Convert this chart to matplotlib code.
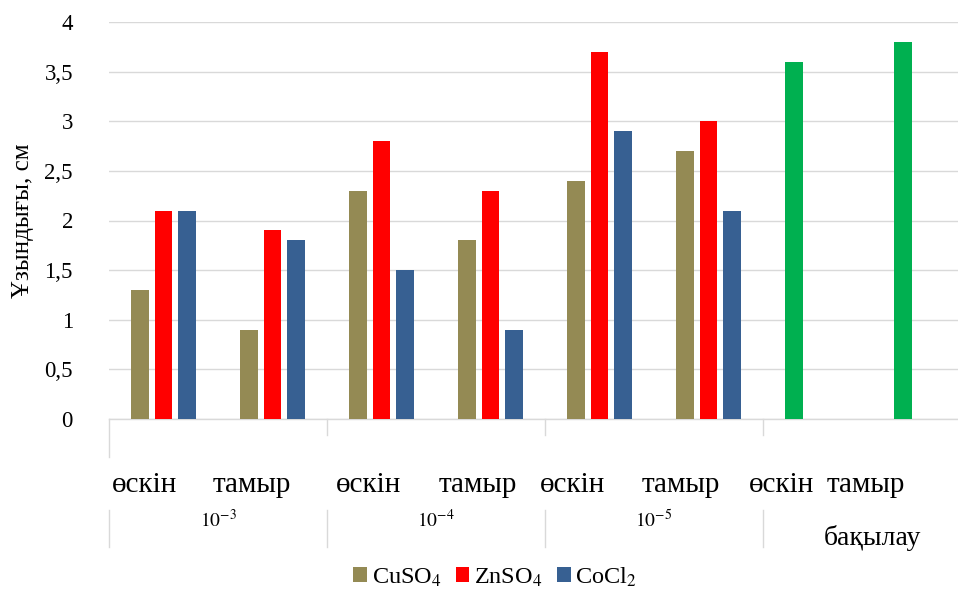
import matplotlib
matplotlib.use("Agg")
import matplotlib.pyplot as plt
import numpy as np
from matplotlib.transforms import blended_transform_factory
from matplotlib.patches import Patch

plt.rcParams['font.family'] = ['Liberation Serif', 'DejaVu Serif']
plt.rcParams['mathtext.fontset'] = 'stix'

# ---- data ----
categories = ["өскін", "тамыр", "өскін", "тамыр", "өскін", "тамыр", "өскін", "тамыр"]
groups = ["$10^{-3}$", "$10^{-4}$", "$10^{-5}$", "бақылау"]
cuso4 = [1.3, 0.9, 2.3, 1.8, 2.4, 2.7, np.nan, np.nan]
znso4 = [2.1, 1.9, 2.8, 2.3, 3.7, 3.0, np.nan, np.nan]
cocl2 = [2.1, 1.8, 1.5, 0.9, 2.9, 2.1, np.nan, np.nan]
control = [np.nan, np.nan, np.nan, np.nan, np.nan, np.nan, 3.6, 3.8]
series_names = ["CuSO$_4$", "ZnSO$_4$", "CoCl$_2$"]
y_ticks = [0, 0.5, 1, 1.5, 2, 2.5, 3, 3.5, 4]
y_ticklabels = ["0", "0,5", "1", "1,5", "2", "2,5", "3", "3,5", "4"]
y_label = "Ұзындығы, см"

# ---- style ----
c_cu, c_zn, c_co, c_ctrl = "#948A54", "#FF0000", "#376092", "#00B050"
grid_c = "#D9D9D9"

fig = plt.figure(figsize=(9.58, 5.90), dpi=100)
ax = fig.add_axes([109/958, 171/590, 872/958, 397/590])

x = np.arange(len(categories))
w = 0.165
step = 0.22
ax.bar(x - step, cuso4, w, color=c_cu, zorder=3)
ax.bar(x, znso4, w, color=c_zn, zorder=3)
ax.bar(x + step, cocl2, w, color=c_co, zorder=3)
ax.bar(x - step, control, w, color=c_ctrl, zorder=3)

ax.set_xlim(-0.5, len(categories) - 0.5)
ax.set_ylim(0, 4)
ax.set_yticks(y_ticks)
ax.set_yticklabels(y_ticklabels, fontsize=16.5)
ax.tick_params(axis='y', length=0, pad=26)
ax.set_xticks([])
ax.yaxis.grid(True, color=grid_c, linewidth=1.0, zorder=0)
for s in ["top", "right", "left"]:
    ax.spines[s].set_visible(False)
ax.spines["bottom"].set_color(grid_c)
ax.spines["bottom"].set_linewidth(1.0)
ax.set_ylabel(y_label, fontsize=18)
ax.yaxis.set_label_coords(-0.086, 0.5)

tr = blended_transform_factory(ax.transData, ax.transAxes)

# category labels (placed slightly left, as in the reference)
shifts = [-0.17, -0.19, -0.12, -0.12, -0.25, -0.25, -0.33, -0.56]
for i, lab in enumerate(categories):
    ax.text(x[i] + shifts[i], -0.165, lab, transform=tr, ha='center', va='center',
            fontsize=21, clip_on=False)

# group labels
gcent = [0.5, 2.5, 4.5, 6.5]
gy = [-0.254, -0.254, -0.254, -0.30]
gsize = [14, 14, 14, 20]
for i, g in enumerate(groups):
    ax.text(gcent[i], gy[i], g, transform=tr, ha='center', va='center',
            fontsize=gsize[i], clip_on=False)

# separators
seps = [-0.5, 1.5, 3.5, 5.5]
for j, sx in enumerate(seps):
    y1 = -0.0957 if j == 0 else -0.040
    ax.plot([sx, sx], [0, y1], transform=tr, color=grid_c, lw=1.0, clip_on=False)
    ax.plot([sx, sx], [-0.229, -0.322], transform=tr, color=grid_c, lw=1.0, clip_on=False)

handles = [Patch(facecolor=c) for c in (c_cu, c_zn, c_co)]
fig.legend(handles, series_names, loc='center', bbox_to_anchor=(0.517, 13/590),
           ncol=3, frameon=False, fontsize=17.5, handlelength=0.55, handleheight=0.55,
           handletextpad=0.2, columnspacing=0.6, borderpad=0)

fig.savefig("out.png", dpi=100)
